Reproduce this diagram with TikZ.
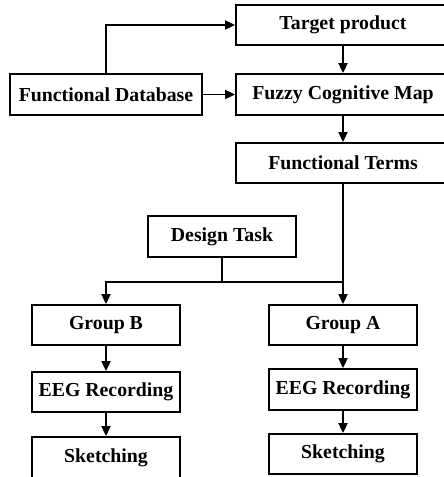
\documentclass[tikz,border=0pt]{standalone}
\usepackage{fontspec}
\setmainfont{Liberation Serif}
\usetikzlibrary{arrows.meta}
\begin{document}
\begin{tikzpicture}[x=1pt,y=-1pt,
  box/.style={draw, line width=1.8pt, inner sep=0pt, font=\fontsize{19.8}{22}\selectfont\bfseries, minimum height=40pt},
  arr/.style={line width=1.8pt, -{Triangle[width=9pt,length=10pt]}},
  ln/.style={line width=1.8pt}]
\useasboundingbox (0,0) rectangle (444,477);
\clip (0,0) rectangle (444,477);
\node[box, minimum width=214pt] (TP) at (343,25) {Target product};
\node[box, minimum width=214pt, minimum height=41pt] (FCM) at (343,94.5) {Fuzzy Cognitive Map};
\node[box, minimum width=214pt] (FT) at (343,163) {Functional Terms};
\node[box, minimum width=192pt, minimum height=41pt] (FD) at (106,94.5) {Functional Database};
\node[box, minimum width=148pt, minimum height=41pt] (DT) at (222,236.5) {Design Task};
\node[box, minimum width=148pt] (GB) at (106,325) {Group B};
\node[box, minimum width=148pt] (GA) at (343,325) {Group A};
\node[box, minimum width=148pt] (EB) at (106,392) {EEG Recording};
\node[box, minimum width=148pt, minimum height=41pt] (EA) at (343,389.5) {EEG Recording};
\node[box, minimum width=148pt, minimum height=41pt] (SB) at (106,457.5) {Sketching};
\node[box, minimum width=148pt] (SA) at (343,454) {Sketching};
\coordinate (J) at (222,282);
\draw[arr] (FD.north) |- (TP.west);
\draw[arr] (FD.east) -- (FCM.west);
\draw[arr] (TP.south) -- (FCM.north);
\draw[arr] (FCM.south) -- (FT.north);
\draw[arr] (FT.south) -- (GA.north);
\draw[ln] (DT.south) -- (J);
\draw[arr] (J) -| (GB.north);
\draw[ln] (J) -- (J -| GA.north);
\draw[arr] (GB.south) -- (EB.north);
\draw[arr] (EB.south) -- (SB.north);
\draw[arr] (GA.south) -- (EA.north);
\draw[arr] (EA.south) -- (SA.north);
\end{tikzpicture}
\end{document}
